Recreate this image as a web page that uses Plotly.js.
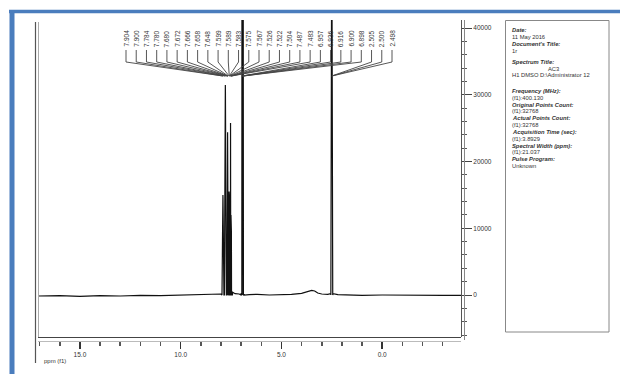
<!DOCTYPE html>
<html>
<head>
<meta charset="utf-8">
<script src="https://cdn.plot.ly/plotly-3.0.1.min.js"></script>
<style>html,body{margin:0;padding:0;background:#fff;}#chart{width:620px;height:374px;}</style>
</head>
<body>
<div id="chart"></div>
<script>
// ---------- data ----------
const peakLabels = ['7.904','7.900','7.784','7.780','7.680','7.672','7.666','7.658','7.648','7.599','7.589','7.583','7.575','7.567','7.526','7.522','7.504','7.487','7.483','6.957','6.936','6.916','6.900','6.898','2.505','2.500','2.498'];
const peakHeights = [15000,14500,31500,30500,15500,24400,16000,15000,14000,15500,15000,14800,14500,14000,25800,15500,12000,10000,9500,62000,60000,58000,61000,59000,55000,57000,54000];
const basePpm = [17.08,16.0,15.0,14.0,13.0,12.0,11.0,10.0,9.0,8.3,8.0,7.95,7.42,7.3,7.1,7.0,6.85,6.6,6.2,5.6,5.0,4.5,4.0,3.7,3.5,3.35,3.2,3.0,2.7,2.56,2.44,2.2,1.5,1.0,0.0,-1.0,-2.0,-3.0,-3.91];
const baseInt = [-150,-100,-200,-100,-150,-50,-100,-50,0,50,150,300,400,200,150,300,150,50,100,0,50,100,250,500,700,600,300,150,100,200,200,50,0,-50,0,-50,0,-50,-50];
const xTitle = 'ppm (f1)';
const infoLines = ['Date:','11 May 2016','Document\'s Title:','1r','','Spectrum Title:','AC3','H1 DMSO D:\\Administrator 12','','','Frequency (MHz):','(f1):400.130','Original Points Count:','(f1):32768','Actual Points Count:','(f1):32768','Acquisition Time (sec):','(f1):3.8929','Spectral Width (ppm):','(f1):21.037','Pulse Program:','Unknown'];

// ---------- layout helpers (pixel -> paper) ----------
const PL = 38, PW = 423, PT = 20, PH = 321;
const px = x => (x - PL) / PW;
const py = y => (PT + PH - y) / PH;
const X0 = 17.08, X1 = -3.91;
const pix2ppm = x => X0 + (X1 - X0) * (x - PL) / PW;
const FONT = 'Liberation Sans, Arial, sans-serif';

// spectrum trace: baseline + narrow sticks for each peak
const pts = [];
basePpm.forEach((p, i) => pts.push([p, baseInt[i]]));
const w = 0.05;
peakLabels.forEach((l, i) => {
  const p = parseFloat(l);
  pts.push([p + w, 0]); pts.push([p, peakHeights[i]]); pts.push([p - w, 0]);
});
pts.sort((a, b) => b[0] - a[0]);
const spec = {
  x: pts.map(d => d[0]), y: pts.map(d => d[1]),
  type: 'scatter', mode: 'lines', line: {color: '#111', width: 1.2},
  hoverinfo: 'skip', showlegend: false, xaxis: 'x', yaxis: 'y'
};

// leader lines from labels to peaks (on y2 which is in pixel units)
const lx = [], ly = [];
const annotations = [];
const n = peakLabels.length;
peakLabels.forEach((l, i) => {
  const xl = pix2ppm(126 + i * (392 - 126) / (n - 1));
  const p = parseFloat(l);
  lx.push(xl, xl, p, null);
  ly.push(50, 62, 76, null);
  annotations.push({x: xl, y: 38.5, xref: 'x', yref: 'y2', text: l, textangle: -90,
    showarrow: false, font: {family: FONT, size: 6.5, color: '#333'}});
});
const leaders = {x: lx, y: ly, type: 'scatter', mode: 'lines', line: {color: '#444', width: 0.9},
  hoverinfo: 'skip', showlegend: false, xaxis: 'x', yaxis: 'y2'};

// info box text
const headers = new Set(['Date:','Document\'s Title:','Spectrum Title:','Frequency (MHz):','Original Points Count:','Actual Points Count:','Acquisition Time (sec):','Spectral Width (ppm):','Pulse Program:']);
let yy = 30;
infoLines.forEach(t => {
  if (t !== '') {
    const centered = (t === 'AC3');
    annotations.push({x: centered ? px(553) : px(510), y: py(yy), xref: 'paper', yref: 'paper',
      xanchor: centered ? 'center' : 'left', yanchor: 'middle', showarrow: false,
      text: headers.has(t) ? '<b><i>' + t + '</i></b>' : t,
      font: {family: FONT, size: 5.8, color: '#333'}});
    yy += 6.85;
  } else {
    yy += 4.3;
  }
});
annotations.push({x: px(42), y: py(361), xref: 'paper', yref: 'paper', xanchor: 'left', yanchor: 'middle',
  text: xTitle, showarrow: false, font: {family: FONT, size: 6, color: '#333'}});

const shapes = [
  // blue frame
  {type: 'line', xref: 'paper', yref: 'paper', x0: px(9), x1: px(620), y0: py(11.5), y1: py(11.5), line: {color: '#4a7dbd', width: 3.5}},
  {type: 'line', xref: 'paper', yref: 'paper', x0: px(12), x1: px(12), y0: py(10), y1: py(374), line: {color: '#4a7dbd', width: 5}},
  // left double border
  {type: 'line', xref: 'paper', yref: 'paper', x0: px(35.5), x1: px(35.5), y0: py(22), y1: py(363), line: {color: '#555', width: 1.2}},
  {type: 'line', xref: 'paper', yref: 'paper', x0: px(38.5), x1: px(38.5), y0: py(22), y1: py(337), line: {color: '#aaa', width: 1}},
  // plot bottom line
  {type: 'line', xref: 'paper', yref: 'paper', x0: px(38), x1: px(461), y0: py(337.5), y1: py(337.5), line: {color: '#444', width: 1}},
  // right double axis line
  {type: 'line', xref: 'paper', yref: 'paper', x0: px(464.5), x1: px(464.5), y0: py(20), y1: py(340), line: {color: '#888', width: 1}},
  // info box
  {type: 'rect', xref: 'paper', yref: 'paper', x0: px(505.5), x1: px(609), y0: py(332), y1: py(20.5), line: {color: '#888', width: 1}}
];

const layout = {
  width: 620, height: 374,
  margin: {l: PL, r: 620 - PL - PW, t: PT, b: 374 - PT - PH, pad: 0},
  paper_bgcolor: '#fff', plot_bgcolor: '#fff',
  showlegend: false,
  xaxis: {domain: [0, 1], range: [X0, X1], anchor: 'free', position: 0,
    dtick: 5, tick0: 0, tickformat: '.1f', ticks: 'outside', ticklen: 7, tickwidth: 1.5, tickcolor: '#333',
    showline: true, linecolor: '#bbb', linewidth: 1, showgrid: false, zeroline: false,
    minor: {dtick: 1, tick0: 0, ticks: 'outside', ticklen: 4, tickcolor: '#555', showgrid: false},
    tickfont: {family: FONT, size: 6.5, color: '#333'}},
  yaxis: {domain: [4 / PH, 1], range: [-6297, 41230], side: 'right', anchor: 'x',
    dtick: 10000, tick0: 0, tickformat: 'd', ticks: 'outside', ticklen: 10, tickwidth: 1, tickcolor: '#444',
    showline: true, linecolor: '#555', linewidth: 1, showgrid: false, zeroline: false,
    minor: {dtick: 2000, tick0: 0, ticks: 'outside', ticklen: 5, tickcolor: '#555', showgrid: false},
    tickfont: {family: FONT, size: 6.5, color: '#333'}},
  yaxis2: {overlaying: 'y', range: [337, 20], visible: false, anchor: 'x'},
  shapes: shapes,
  annotations: annotations
};

Plotly.newPlot('chart', [spec, leaders], layout, {displayModeBar: false, staticPlot: true});
</script>
</body>
</html>
